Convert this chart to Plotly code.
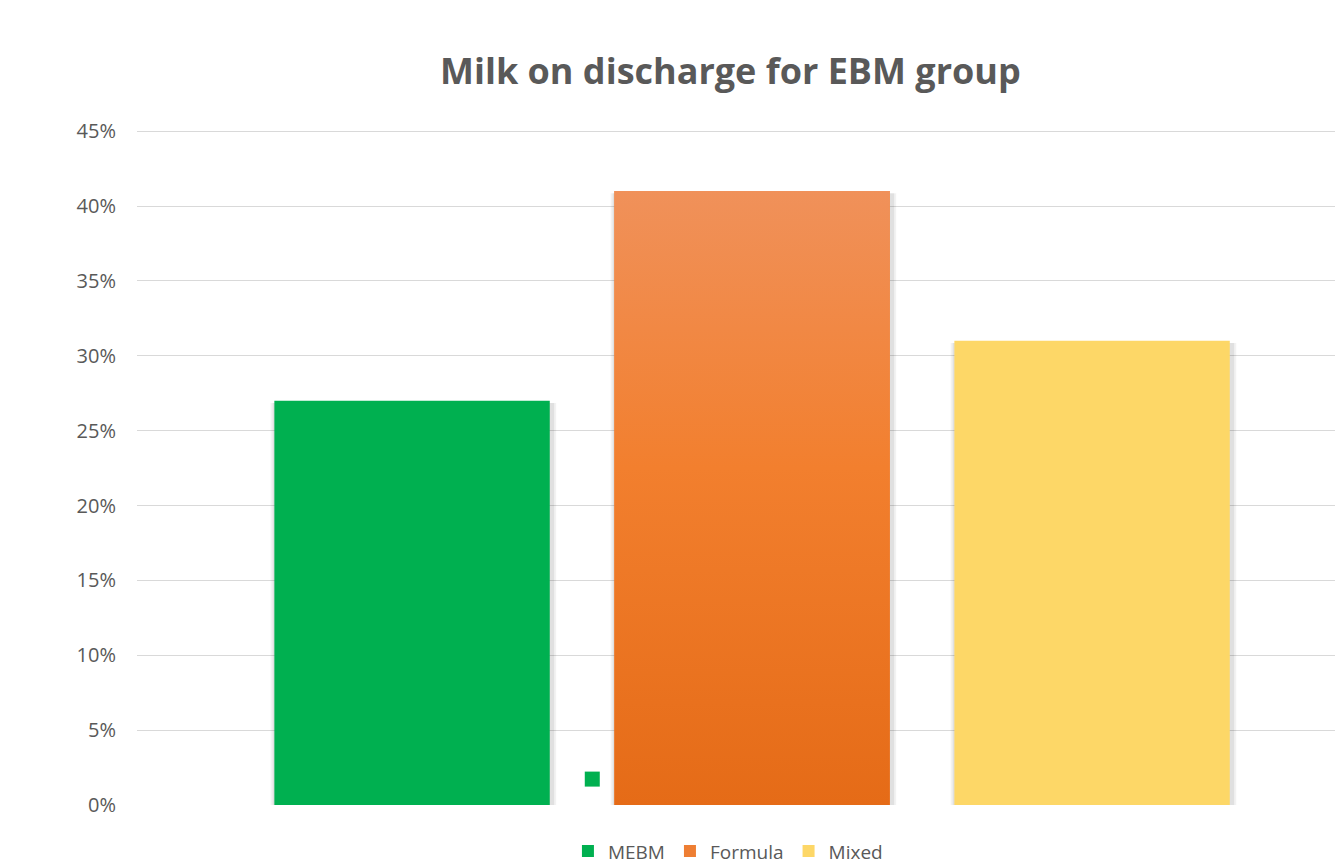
import plotly.graph_objects as go

categories = ["MEBM", "Formula", "Mixed"]
values = [27, 41, 31]
colors = ["#00B050", "#EE7E33", "#FDD767"]
y_tick_vals = [0, 5, 10, 15, 20, 25, 30, 35, 40, 45]
y_tick_text = ["0%", "5%", "10%", "15%", "20%", "25%", "30%", "35%", "40%", "45%"]
stray_x = [0.53]
stray_y = [1.73]

bar_width = 0.81
xpos = list(range(len(categories)))

fig = go.Figure()

# soft shadows
for i, v in enumerate(values):
    for dw, a in [(0.03, 0.05), (0.018, 0.07)]:
        fig.add_trace(go.Bar(x=[xpos[i] + 0.004], y=[v], base=-0.15, width=bar_width + dw,
                             marker=dict(color=f"rgba(0,0,0,{a})", line=dict(width=0)),
                             showlegend=False, hoverinfo="skip"))

for i, (c, v, col) in enumerate(zip(categories, values, colors)):
    fig.add_trace(go.Bar(x=[xpos[i]], y=[v], width=bar_width, name=c,
                         marker=dict(color=col, line=dict(width=0))))

# gradient overlay for Formula bar
i = 1
v = values[i]
fig.add_trace(go.Scatter(
    x=[xpos[i] - bar_width / 2, xpos[i] - bar_width / 2, xpos[i] + bar_width / 2, xpos[i] + bar_width / 2, xpos[i] - bar_width / 2],
    y=[0, v, v, 0, 0], mode="lines", line=dict(width=0), fill="toself",
    fillgradient=dict(type="vertical", colorscale=[[0, "#E56B17"], [0.55, "#F27F2E"], [1, "#F0915A"]], start=0, stop=v),
    showlegend=False, hoverinfo="skip"))

fig.add_trace(go.Scatter(x=stray_x, y=stray_y, mode="markers",
                         marker=dict(symbol="square", size=15, color="#00B050", line=dict(width=0)),
                         showlegend=False, hoverinfo="skip"))

fig.update_layout(
    width=1343, height=864,
    margin=dict(l=129, r=8, t=122, b=67, autoexpand=False),
    paper_bgcolor="white", plot_bgcolor="white",
    barmode="overlay",
    font=dict(family="Open Sans", color="#595959"),
    title=dict(text="<b>Milk on discharge for EBM group</b>", x=0.492, xref="paper", xanchor="center",
               y=0.9265, yref="container", yanchor="middle",
               font=dict(size=36, color="#595959", family="Open Sans")),
    xaxis=dict(range=[-0.809, 2.738], showticklabels=False, showgrid=False, zeroline=False,
               showline=False, ticks="", automargin=False),
    yaxis=dict(range=[0, 45.08], tickvals=y_tick_vals, ticktext=y_tick_text, showgrid=True,
               gridcolor="#D9D9D9", gridwidth=1, zeroline=False, showline=False, ticks="",
               ticklabelstandoff=20, tickfont=dict(size=20, color="#595959"), automargin=False),
    legend=dict(orientation="h", x=0.49, xanchor="center", y=0.024, yref="container", yanchor="middle",
                font=dict(size=19, color="#595959"), itemwidth=30, traceorder="normal"),
)

fig.write_html("out.html")
